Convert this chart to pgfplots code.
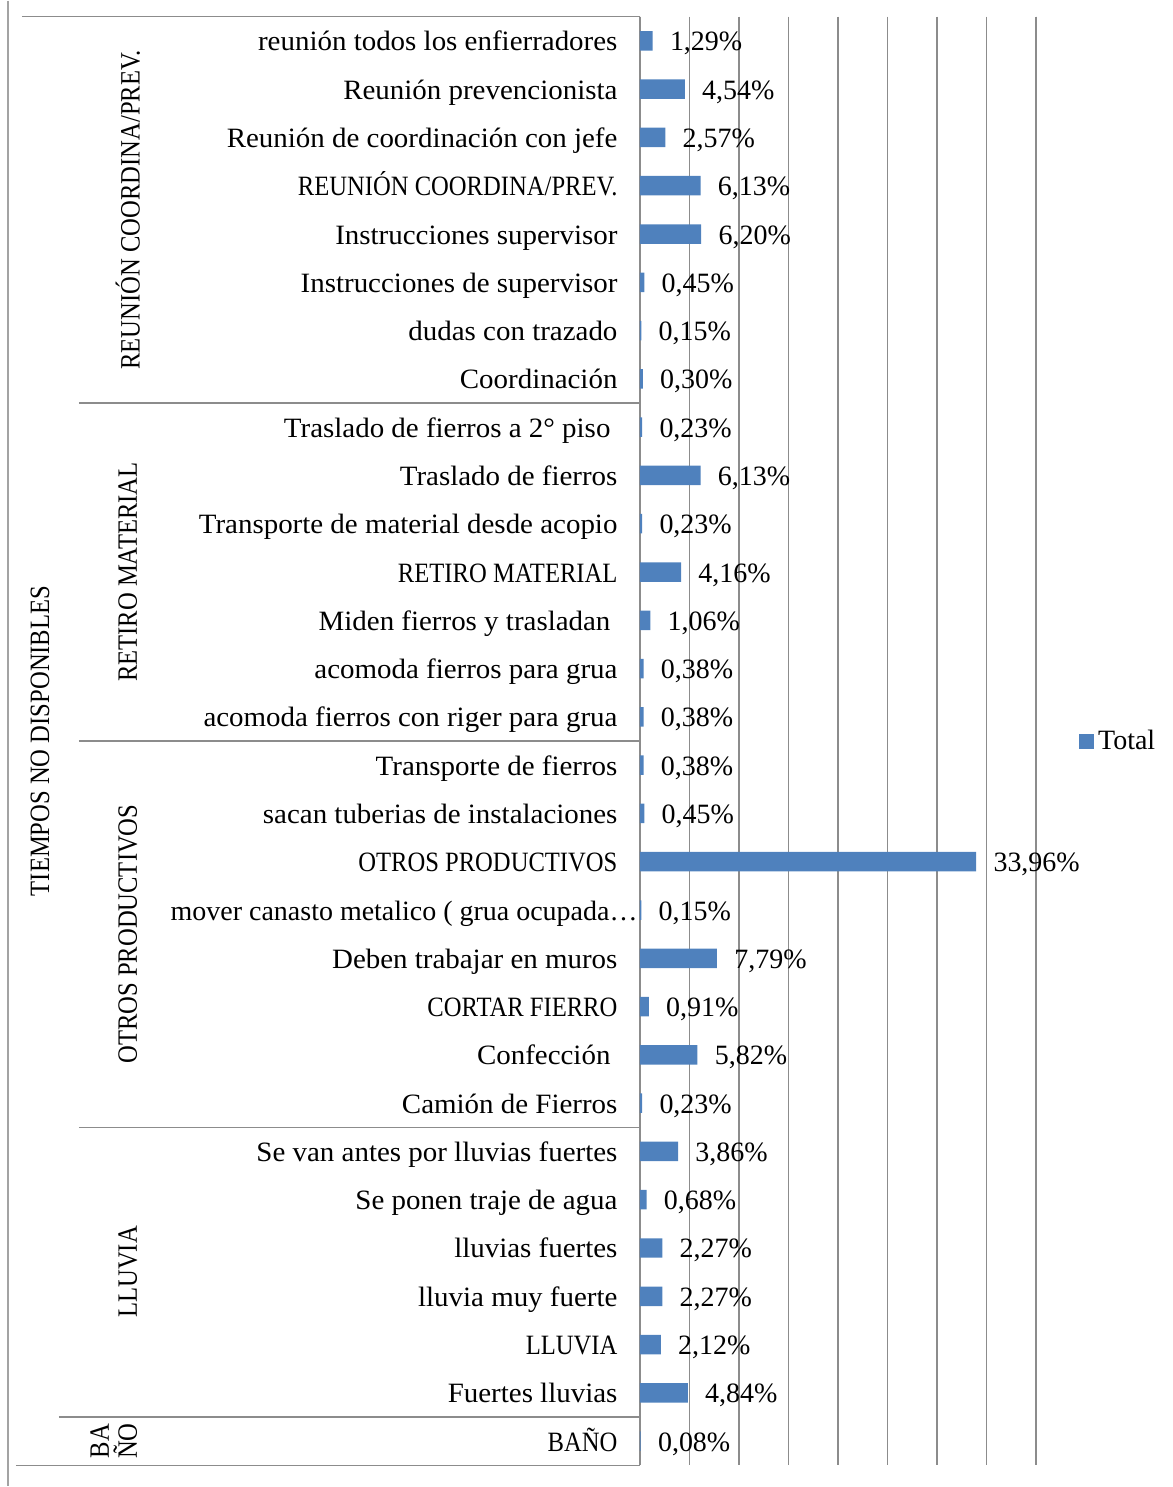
\documentclass[border=0pt]{standalone}
\usepackage{fontspec}
\setmainfont{Liberation Serif}
\newfontfamily\capsf{Liberation Serif}[FakeStretch=0.88]
\newfontfamily\lowf{Liberation Serif}[FakeStretch=1.035]
\usepackage{pgfplots}
\pgfplotsset{compat=1.18}
\definecolor{barblue}{HTML}{4F81BD}
\definecolor{gridgray}{HTML}{8C8C8C}
\newcommand\ft{\fontsize{14}{14}\selectfont}
\begin{document}
\begin{tikzpicture}
\begin{scope}[x=0.5pt,y=-0.5pt,shift={(-320.25pt,733pt)}]
\useasboundingbox (0,0) rectangle (1174,1487);
\end{scope}
\begin{axis}[
  at={(0pt,0pt)}, anchor=south west,
  scale only axis, width=198.25pt, height=725pt,
  xbar, bar width=9.75pt,
  xmin=0, xmax=40, ymin=0.5, ymax=30.5, y dir=reverse,
  xtick={0,5,...,40}, xticklabels={},
  xmajorgrids, major grid style={gridgray, line width=0.75pt},
  major tick length=0pt,
  separate axis lines,
  x axis line style={draw=none},
  y axis line style={draw=gridgray, line width=0.75pt},
  ytick={1,...,30},
  yticklabels={reunión todos los enfierradores, Reunión prevencionista, Reunión de coordinación con jefe, {\capsf REUNIÓN COORDINA/PREV.}, Instrucciones supervisor, Instrucciones de supervisor, dudas con trazado, Coordinación, Traslado de fierros a 2° piso\kern3.5pt, Traslado de fierros, Transporte de material desde acopio, {\capsf RETIRO MATERIAL}, Miden fierros y trasladan\kern3.5pt, acomoda fierros para grua, acomoda fierros con riger para grua, Transporte de fierros, sacan tuberias de instalaciones, {\capsf OTROS PRODUCTIVOS}, {\rmfamily mover canasto metalico ( grua ocupada…}\kern-10pt, Deben trabajar en muros, {\capsf CORTAR FIERRO}, Confección\kern3.5pt, Camión de Fierros, Se van antes por lluvias fuertes, Se ponen traje de agua, lluvias fuertes, lluvia muy fuerte, {\capsf LLUVIA}, Fuertes lluvias, {\capsf BAÑO}},
  yticklabel style={font=\ft\lowf, inner sep=0pt, text height=13pt, text depth=3pt},
  yticklabel shift=11pt,
  point meta=x,
  nodes near coords={\pgfmathprintnumber[fixed,fixed zerofill,precision=2,use comma,assume math mode=true]{\pgfplotspointmeta}\%},
  every node near coord/.append style={font=\ft, anchor=west, inner sep=0pt, xshift=8.5pt, text=black, text height=13pt, text depth=3pt},
  legend style={at={(1.108,0.5)}, anchor=west, draw=none, fill=none, font=\ft, inner sep=0pt, nodes={inner sep=2pt}},
  legend image code/.code={\fill[barblue] (0pt,-3.75pt) rectangle (7.5pt,3.75pt);},
  clip=false,
]
\addplot[fill=barblue, draw=none] coordinates {
(1.29,1) (4.54,2) (2.57,3) (6.13,4) (6.20,5) (0.45,6) (0.15,7) (0.30,8)
(0.23,9) (6.13,10) (0.23,11) (4.16,12) (1.06,13) (0.38,14) (0.38,15)
(0.38,16) (0.45,17) (33.96,18) (0.15,19) (7.79,20) (0.91,21) (5.82,22) (0.23,23)
(3.86,24) (0.68,25) (2.27,26) (2.27,27) (2.12,28) (4.84,29) (0.08,30)
};
\addlegendentry{Total}
\end{axis}
\begin{scope}[x=0.5pt,y=-0.5pt,shift={(-320.25pt,733pt)}]
\draw[gridgray!80, line width=0.75pt] (8,0) -- (8,1487);
\draw[gridgray, line width=0.75pt] (22,16) -- (641,16);
\draw[gridgray, line width=0.75pt] (16,1466) -- (641,1466);
\draw[gridgray, line width=0.75pt] (79,402.7) -- (641,402.7);
\draw[gridgray, line width=0.75pt] (79,741) -- (641,741);
\draw[gridgray, line width=0.75pt] (79,1127.7) -- (641,1127.7);
\draw[gridgray, line width=0.75pt] (59,1417.7) -- (641,1417.7);
\node[rotate=90, font=\ft\capsf] at (128,209.3) {REUNIÓN COORDINA/PREV.};
\node[rotate=90, font=\ft\capsf] at (128,572) {RETIRO MATERIAL};
\node[rotate=90, font=\ft\capsf] at (128,934.3) {OTROS PRODUCTIVOS};
\node[rotate=90, font=\ft\capsf] at (128,1272.5) {LLUVIA};
\node[rotate=90, font=\ft\capsf, align=center] at (114,1441.8) {BA\\ÑO};
\node[rotate=90, font=\ft\capsf] at (40,741) {TIEMPOS NO DISPONIBLES};
\end{scope}
\end{tikzpicture}
\end{document}
